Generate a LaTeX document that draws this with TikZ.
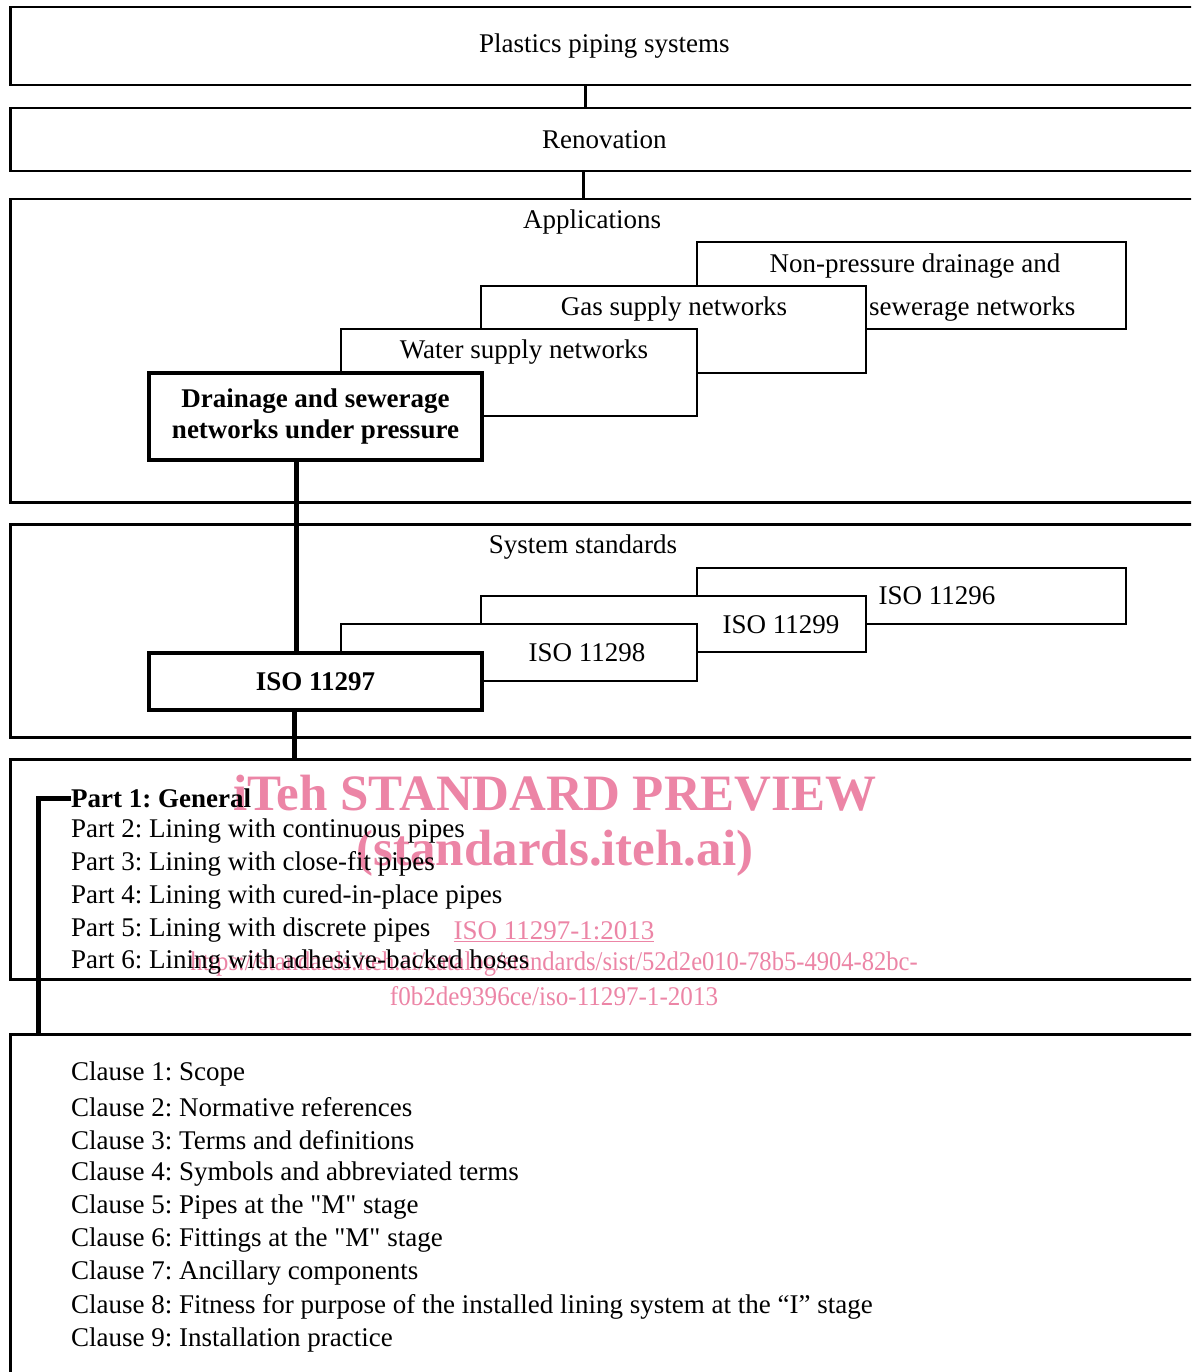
\documentclass[tikz,border=0pt]{standalone}
\usepackage{fontspec}
\setmainfont{Liberation Serif}
\usetikzlibrary{calc}
\definecolor{wmpink}{RGB}{236,133,166}
\newcommand{\txt}{\fontsize{27}{33}\selectfont}
\frenchspacing
\tikzset{
  frame/.style={draw, line width=2.5pt, fill=white, anchor=north west, inner sep=0pt, font=\txt},
  stdbox/.style={draw, line width=2pt, fill=white, anchor=north west, inner sep=0pt},
  mainbox/.style={draw, line width=4pt, fill=white, anchor=north west, inner sep=0pt,
    align=center, font=\txt\bfseries},
  label/.style={inner sep=0pt, font=\txt},
  item/.style={inner sep=0pt, anchor=west, font=\txt},
  link/.style={line width=3pt},
  mainlink/.style={line width=5pt},
  wm/.style={inner sep=0pt, text=wmpink}
}

\begin{document}
\begin{tikzpicture}[x=1pt, y=-1pt]
    \useasboundingbox (0,0) rectangle (1191,1372);
    \clip (0,0) rectangle (1191,1372);

    % Outer frames
    \node[frame, minimum width=1188pt, minimum height=78pt] (plastics) at (9,6) {Plastics piping systems};
    \node[frame, minimum width=1188pt, minimum height=63pt] (renov) at (9,107) {Renovation};
    \node[frame, minimum width=1188pt, minimum height=303pt] (apps) at (9,198) {};
    \node[frame, minimum width=1188pt, minimum height=213pt] (sysstd) at (9,523) {};
    \node[frame, minimum width=1188pt, minimum height=220pt] (parts) at (9,758) {};
    \node[frame, minimum width=1188pt, minimum height=400pt] (clauses) at (9,1033) {};

    \node[label] (appstitle) at (592,222) {Applications};
    \node[label] (systitle) at (583,547) {System standards};

    % Applications
    \node[stdbox, minimum width=429pt, minimum height=87pt] (nonpress) at (696,241) {};
    \node[label] (nonpress1) at (915,266) {Non-pressure drainage and};
    \node[label, anchor=west] (nonpress2) at (869,309) {sewerage networks};
    \node[stdbox, minimum width=385pt, minimum height=87pt] (gas) at (480,285) {};
    \node[label] (gastext) at (674,309) {Gas supply networks};
    \node[stdbox, minimum width=356pt, minimum height=87pt] (water) at (340,328) {};
    \node[label] (watertext) at (524,352) {Water supply networks};
    \node[mainbox, minimum width=333pt, minimum height=87pt] (drain) at (147,371)
        {Drainage and sewerage\\[-2pt]networks under pressure};

    % System standards
    \node[stdbox, minimum width=429pt, minimum height=56pt] (iso6) at (696,567) {};
    \node[label] (iso6text) at (937,596) {ISO 11296};
    \node[stdbox, minimum width=385pt, minimum height=56pt] (iso9) at (480,595) {};
    \node[label] (iso9text) at (781,625) {ISO 11299};
    \node[stdbox, minimum width=356pt, minimum height=57pt] (iso8) at (340,623) {};
    \node[label] (iso8text) at (587,653) {ISO 11298};
    \node[mainbox, minimum width=333pt, minimum height=57pt] (iso7) at (147,651) {ISO 11297};

    % Connectors
    \draw[link] (585,0 |- plastics.south) -- (585,0 |- renov.north);
    \draw[link] (583,0 |- renov.south) -- (583,0 |- apps.north);
    \draw[mainlink] (296,0 |- drain.south) -- (296,0 |- iso7.north);
    \draw[mainlink] (294,0 |- iso7.south) -- (294,0 |- parts.north);

    % Watermark
    \node[wm, font=\bfseries\fontsize{51}{51}\selectfont] (wmtitle) at (555,793) {iTeh STANDARD PREVIEW};
    \node[wm, font=\bfseries\fontsize{51}{51}\selectfont] (wmsite) at (555,853) {(standards.iteh.ai)};
    \node[wm, font=\fontsize{27}{27}\selectfont] (wmiso) at (554,932) {\underline{ISO 11297-1:2013}};
    \node[wm, font=\fontsize{27}{27}\selectfont] (wmurl) at (554,964)
        {\scalebox{0.91}[1]{https://standards.iteh.ai/catalog/standards/sist/52d2e010-78b5-4904-82bc-}};
    \node[wm, font=\fontsize{27}{27}\selectfont] (wmurl2) at (554,996)
        {\scalebox{0.93}[1]{f0b2de9396ce/iso-11297-1-2013}};

    % Parts
    \node[item, font=\txt\bfseries] (part1) at (71,798) {Part 1: General};
    \foreach \t [count=\i from 2] in {Lining with continuous pipes, Lining with close-fit pipes,
        Lining with cured-in-place pipes, Lining with discrete pipes, Lining with adhesive-backed hoses}
        \node[item] (part\i) at (71,{798+(\i-1)*32.9}) {Part \i: \t};

    % Clauses
    \foreach \t [count=\i] in {Scope, Normative references, Terms and definitions,
        Symbols and abbreviated terms, Pipes at the \textquotedbl M\textquotedbl\ stage,
        Fittings at the \textquotedbl M\textquotedbl\ stage,
        Ancillary components, Fitness for purpose of the installed lining system at the “I” stage,
        Installation practice}
        \node[item] (clause\i) at (71,{1074+(\i-1)*33.25}) {Clause \i: \t};

    \coordinate (bk) at (38,0);
    \draw[mainlink] (part1.west) -| (bk |- clauses.north);
\end{tikzpicture}
\end{document}
